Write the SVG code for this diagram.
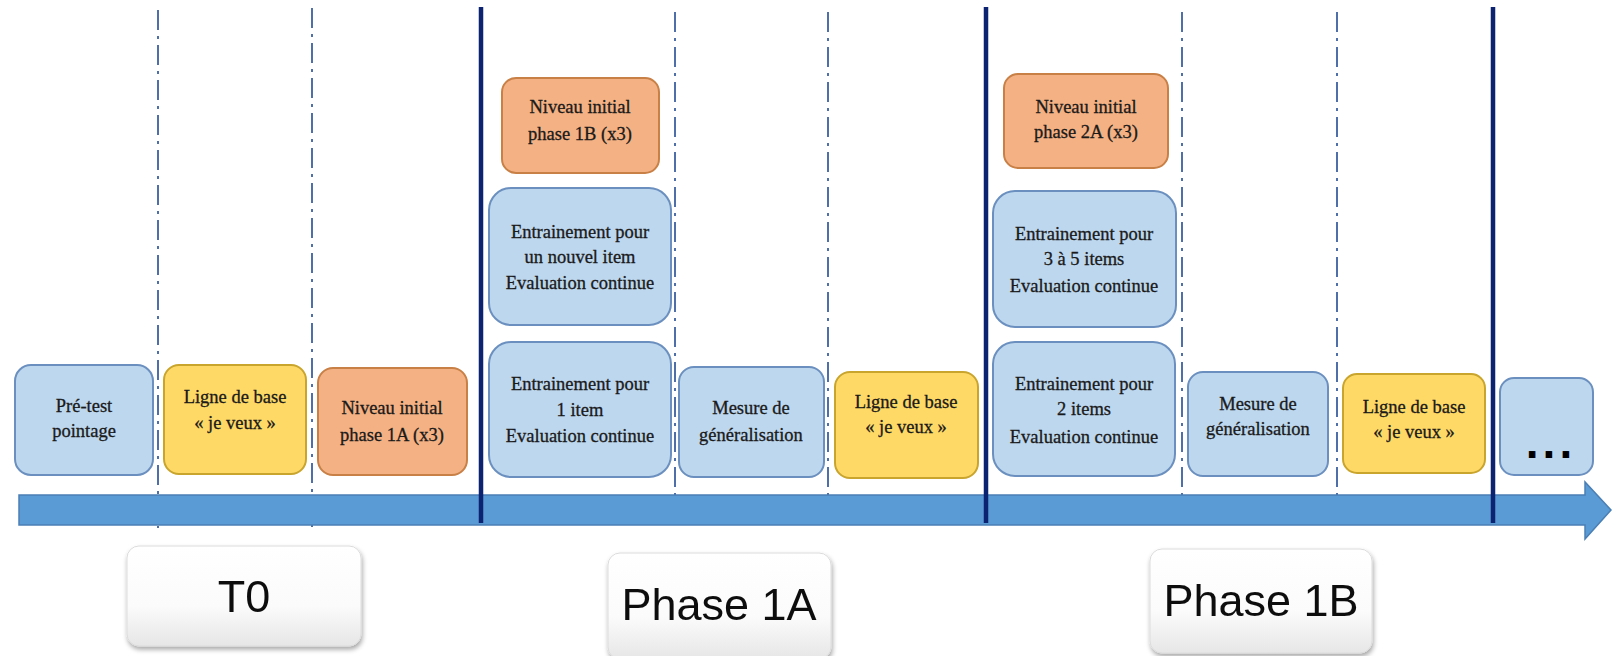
<svg xmlns="http://www.w3.org/2000/svg" width="1617" height="656" viewBox="0 0 1617 656">
<defs>
<linearGradient id="lg" x1="0" y1="0" x2="0" y2="1">
<stop offset="0" stop-color="#ffffff"/>
<stop offset="0.6" stop-color="#fbfbfb"/>
<stop offset="1" stop-color="#e6e6e6"/>
</linearGradient>
<filter id="sh" x="-10%" y="-10%" width="125%" height="130%">
<feGaussianBlur in="SourceAlpha" stdDeviation="2.5"/>
<feOffset dx="1" dy="3" result="b"/>
<feComponentTransfer><feFuncA type="linear" slope="0.35"/></feComponentTransfer>
<feMerge><feMergeNode/><feMergeNode in="SourceGraphic"/></feMerge>
</filter>
<style>
.dash{stroke:#4f6fa8;stroke-width:2;stroke-dasharray:20 6 3 6;fill:none}
.thick{stroke:#0b2370;stroke-width:4.5;fill:none}
.blue{fill:#BDD7EE;stroke:#6B90BF;stroke-width:2}
.yel{fill:#FFD966;stroke:#C9A52E;stroke-width:2}
.ora{fill:#F4B183;stroke:#C98047;stroke-width:2}
.lbl{fill:url(#lg);stroke:#dcdcdc;stroke-width:1}
.t{font-family:"Liberation Serif","Times New Roman",serif;font-size:18.5px;fill:#1a1a1a;stroke:#1a1a1a;stroke-width:0.3;text-anchor:middle}
.big{font-family:"Liberation Sans","Open Sans",sans-serif;font-size:45px;fill:#111;text-anchor:middle}
</style>
</defs>
<rect width="1617" height="656" fill="#ffffff"/>
<g id="separators">
<line class="dash" x1="158" y1="10" x2="158" y2="528"/>
<line class="dash" x1="312" y1="8" x2="312" y2="528"/>
<line class="dash" x1="675" y1="12" x2="675" y2="528"/>
<line class="dash" x1="828" y1="12" x2="828" y2="528"/>
<line class="dash" x1="1182" y1="12" x2="1182" y2="528"/>
<line class="dash" x1="1337" y1="12" x2="1337" y2="528"/>
</g>
<g id="timeline">
<path d="M19 495 H1585 V482 L1611 510 L1585 539 V525 H19 Z" fill="#5B9BD5" stroke="#4A7FB4" stroke-width="1.5"/>
</g>
<g id="phase-bars">
<line class="thick" x1="481" y1="7" x2="481" y2="523"/>
<line class="thick" x1="986" y1="7" x2="986" y2="523"/>
<line class="thick" x1="1493" y1="7" x2="1493" y2="523"/>
</g>
<g id="pretest"><rect class="blue" x="15" y="365" width="138" height="110" rx="16"/>
<text class="t" x="84" y="412">Pré-test</text><text class="t" x="84" y="437">pointage</text></g>
<g id="ligne1"><rect class="yel" x="164" y="365" width="142" height="109" rx="15"/>
<text class="t" x="235" y="403">Ligne de base</text><text class="t" x="235" y="429">«  je veux »</text></g>
<g id="niveau1a"><rect class="ora" x="318" y="368" width="149" height="107" rx="15"/>
<text class="t" x="392" y="414">Niveau initial</text><text class="t" x="392" y="441">phase 1A (x3)</text></g>
<g id="niveau1b"><rect class="ora" x="502" y="78" width="157" height="95" rx="14"/>
<text class="t" x="580" y="113">Niveau initial</text><text class="t" x="580" y="140">phase 1B (x3)</text></g>
<g id="entr-nouvel"><rect class="blue" x="489" y="188" width="182" height="137" rx="22"/>
<text class="t" x="580" y="238">Entrainement  pour</text><text class="t" x="580" y="263">un nouvel item</text><text class="t" x="580" y="289">Evaluation  continue</text></g>
<g id="entr-1"><rect class="blue" x="489" y="342" width="182" height="135" rx="22"/>
<text class="t" x="580" y="390">Entrainement  pour</text><text class="t" x="580" y="416">1 item</text><text class="t" x="580" y="442">Evaluation  continue</text></g>
<g id="mesure1"><rect class="blue" x="679" y="367" width="145" height="110" rx="15"/>
<text class="t" x="751" y="414">Mesure de</text><text class="t" x="751" y="441">généralisation</text></g>
<g id="ligne2"><rect class="yel" x="835" y="372" width="143" height="106" rx="15"/>
<text class="t" x="906" y="408">Ligne de base</text><text class="t" x="906" y="433">«  je veux »</text></g>
<g id="niveau2a"><rect class="ora" x="1004" y="74" width="164" height="94" rx="14"/>
<text class="t" x="1086" y="113">Niveau initial</text><text class="t" x="1086" y="138">phase 2A (x3)</text></g>
<g id="entr-3a5"><rect class="blue" x="993" y="191" width="183" height="136" rx="22"/>
<text class="t" x="1084" y="240">Entrainement  pour</text><text class="t" x="1084" y="265">3 à 5 items</text><text class="t" x="1084" y="292">Evaluation  continue</text></g>
<g id="entr-2"><rect class="blue" x="993" y="342" width="182" height="134" rx="22"/>
<text class="t" x="1084" y="390">Entrainement  pour</text><text class="t" x="1084" y="415">2 items</text><text class="t" x="1084" y="443">Evaluation  continue</text></g>
<g id="mesure2"><rect class="blue" x="1188" y="372" width="140" height="104" rx="15"/>
<text class="t" x="1258" y="410">Mesure de</text><text class="t" x="1258" y="435">généralisation</text></g>
<g id="ligne3"><rect class="yel" x="1343" y="374" width="142" height="99" rx="14"/>
<text class="t" x="1414" y="413">Ligne de base</text><text class="t" x="1414" y="438">«  je veux »</text></g>
<g id="suite"><rect class="blue" x="1500" y="378" width="93" height="97" rx="14"/>
<text x="1551" y="458" font-family="Liberation Sans, sans-serif" font-size="46" font-weight="bold" fill="#000" text-anchor="middle" letter-spacing="4">...</text></g>
<g id="t0" filter="url(#sh)"><rect class="lbl" x="127" y="546" width="234" height="100" rx="12"/>
<text class="big" x="244" y="612">T0</text></g>
<g id="phase1a" filter="url(#sh)"><rect class="lbl" x="608" y="553" width="223" height="106" rx="12"/>
<text class="big" x="719" y="620">Phase 1A</text></g>
<g id="phase1b" filter="url(#sh)"><rect class="lbl" x="1150" y="549" width="222" height="104" rx="12"/>
<text class="big" x="1261" y="616">Phase 1B</text></g>
</svg>
